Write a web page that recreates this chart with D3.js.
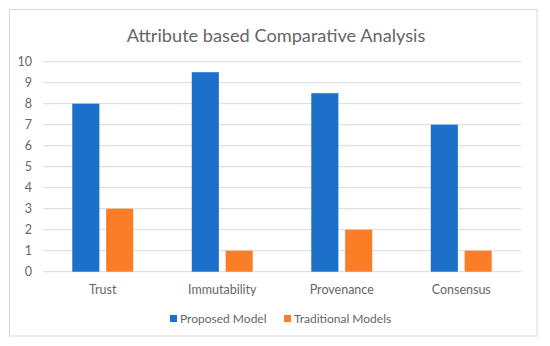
<!DOCTYPE html>
<html>
<head>
<meta charset="utf-8">
<script src="https://cdn.jsdelivr.net/npm/d3@7"></script>
<style>
  body { margin: 0; background: #fff; }
  text { font-family: Lato, "Open Sans", sans-serif; fill: #666; }
</style>
</head>
<body>
<svg id="chart" width="550" height="346"></svg>
<script>
const categories = ["Trust", "Immutability", "Provenance", "Consensus"];
const seriesNames = ["Proposed Model", "Traditional Models"];
const proposedValues = [8, 9.5, 8.5, 7];
const traditionalValues = [3, 1, 2, 1];
const yTicks = [0, 1, 2, 3, 4, 5, 6, 7, 8, 9, 10];
const colors = ["#1B70C9", "#FB7E26"];

const svg = d3.select("#chart");

// outer chart frame
svg.append("rect")
    .attr("x", 9.5).attr("y", 9.5)
    .attr("width", 527.5).attr("height", 326.5)
    .attr("fill", "#fff")
    .attr("stroke", "#d9d9d9");

const plot = { left: 43, right: 521, top: 61.7, bottom: 271.7 };

const x0 = d3.scaleBand()
    .domain(categories)
    .range([plot.left, plot.right])
    .paddingInner(0.49)
    .paddingOuter(0.245);

const x1 = d3.scaleBand()
    .domain(seriesNames)
    .range([0, x0.bandwidth()])
    .paddingInner(0.2);

const y = d3.scaleLinear()
    .domain([0, 10])
    .range([plot.bottom, plot.top]);

// gridlines
svg.append("g")
    .selectAll("line")
    .data(yTicks)
    .join("line")
    .attr("x1", plot.left)
    .attr("x2", plot.right)
    .attr("y1", d => y(d))
    .attr("y2", d => y(d))
    .attr("stroke", "#d9d9d9")
    .attr("stroke-width", 1);

// y axis labels
const yAxis = d3.axisLeft(y).tickValues(yTicks).tickSize(0).tickPadding(11);
svg.append("g")
    .attr("transform", `translate(${plot.left},0)`)
    .call(yAxis)
    .call(g => g.select(".domain").remove())
    .selectAll("text")
    .style("font-family", "Lato, sans-serif")
    .style("font-size", "12.5px")
    .attr("fill", "#666");

// bars
const rows = categories.map((c, i) => ({
    category: c,
    values: [proposedValues[i], traditionalValues[i]]
}));

const groups = svg.append("g")
    .selectAll("g")
    .data(rows)
    .join("g")
    .attr("transform", d => `translate(${x0(d.category)},0)`);

groups.selectAll("rect")
    .data(d => d.values.map((v, j) => ({ name: seriesNames[j], value: v, idx: j })))
    .join("rect")
    .attr("x", d => x1(d.name))
    .attr("y", d => y(d.value))
    .attr("width", x1.bandwidth())
    .attr("height", d => y(0) - y(d.value))
    .attr("fill", d => colors[d.idx]);

// x axis labels
const xAxis = d3.axisBottom(x0).tickSize(0).tickPadding(13);
svg.append("g")
    .attr("transform", `translate(0,${plot.bottom})`)
    .call(xAxis)
    .call(g => g.select(".domain").remove())
    .selectAll("text")
    .style("font-family", "Lato, sans-serif")
    .style("font-size", "12.5px")
    .attr("fill", "#666");

// title
svg.append("text")
    .attr("x", 276)
    .attr("y", 42)
    .attr("text-anchor", "middle")
    .style("font-size", "18.2px")
    .text("Attribute based Comparative Analysis");

// legend
const legendX = [170, 284];
const legend = svg.append("g")
    .selectAll("g")
    .data(seriesNames)
    .join("g")
    .attr("transform", (d, i) => `translate(${legendX[i]},315)`);

legend.append("rect")
    .attr("width", 7).attr("height", 7)
    .attr("fill", (d, i) => colors[i]);

legend.append("text")
    .attr("x", 10)
    .attr("y", 8)
    .style("font-size", "12px")
    .text(d => d);
</script>
</body>
</html>
